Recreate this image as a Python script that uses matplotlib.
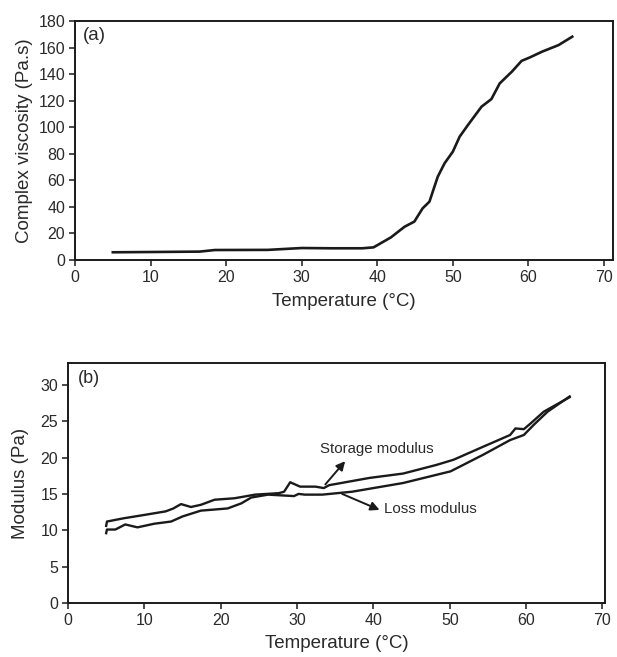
import matplotlib.pyplot as plt

plt.rcParams['font.family'] = ['Liberation Sans', 'DejaVu Sans']

# ---- (a) complex viscosity vs temperature ----
temp_a = [5, 10, 16.5, 18.5, 25.5, 30, 34, 38, 39.5, 41.8, 43.6, 44.9, 46.0, 46.9,
          48.0, 48.9, 50.0, 50.9, 52.0, 53.8, 55.1, 56.2, 57.8, 59.1, 60.2, 61.8,
          64.0, 65.8]
viscosity = [5.8, 6.0, 6.3, 7.5, 7.6, 9.0, 8.8, 8.8, 9.5, 17, 25, 28.9, 38.9, 43.9,
             62.7, 72.8, 81.6, 92.9, 101.7, 115.5, 121.2, 133, 141.8, 150, 152.6,
             156.9, 161.9, 168.2]

# ---- (b) storage / loss modulus vs temperature ----
temp_storage = [5.0, 5.1, 7.3, 9.95, 12.8, 13.8, 14.8, 16.1, 17.4, 19.2, 21.8, 24.5,
                27.6, 28.3, 29.1, 30.4, 32.4, 33.5, 34.2, 39.5, 43.9, 48.3, 50.5,
                54.4, 57.9, 58.6, 59.7, 60.6, 62.3, 65.7]
storage = [10.6, 11.2, 11.65, 12.1, 12.6, 13.0, 13.6, 13.2, 13.5, 14.2, 14.4, 14.9,
           15.1, 15.3, 16.6, 16.0, 16.0, 15.8, 16.2, 17.2, 17.8, 19.0, 19.7, 21.5,
           23.1, 24.0, 23.9, 24.7, 26.3, 28.3]

temp_loss = [5.0, 5.1, 6.2, 7.5, 9.1, 11.3, 13.5, 15.0, 17.4, 20.9, 22.7, 24.0, 26.2,
             29.6, 30.2, 31.0, 33.3, 37.2, 43.9, 50.1, 54.4, 57.9, 59.7, 61.0, 62.8,
             65.7]
loss = [9.6, 10.1, 10.1, 10.8, 10.4, 10.9, 11.2, 11.9, 12.7, 13.0, 13.7, 14.5, 14.9,
        14.7, 15.0, 14.9, 14.9, 15.3, 16.5, 18.1, 20.4, 22.4, 23.1, 24.5, 26.3, 28.4]

xticks = [0, 10, 20, 30, 40, 50, 60, 70]

ink = '#1a1a1a'
txt = '#2a2a2a'

fig = plt.figure(figsize=(6.17, 6.57), dpi=100)
ax1 = fig.add_axes([0.1216, 0.6043, 0.872, 0.3637])
ax2 = fig.add_axes([0.1102, 0.0822, 0.870, 0.3653])

ax1.plot(temp_a, viscosity, color=ink, lw=1.9)
ax1.set_xlim(0, 71.2)
ax1.set_ylim(0, 180)
ax1.set_xticks(xticks)
ax1.set_yticks(range(0, 181, 20))
ax1.set_xlabel('Temperature (°C)', fontsize=13.5, color=txt, labelpad=6)
ax1.set_ylabel('Complex viscosity (Pa.s)', fontsize=13.5, color=txt, labelpad=4)
ax1.text(0.015, 0.975, '(a)', transform=ax1.transAxes, ha='left', va='top',
         fontsize=13.5, color=txt)

ax2.plot(temp_storage, storage, color=ink, lw=1.7)
ax2.plot(temp_loss, loss, color=ink, lw=1.7)
ax2.set_xlim(0, 70.3)
ax2.set_ylim(0, 33)
ax2.set_xticks(xticks)
ax2.set_yticks(range(0, 31, 5))
ax2.set_xlabel('Temperature (°C)', fontsize=13.5, color=txt, labelpad=5)
ax2.set_ylabel('Modulus (Pa)', fontsize=13.5, color=txt, labelpad=8)
ax2.text(0.018, 0.97, '(b)', transform=ax2.transAxes, ha='left', va='top',
         fontsize=13, color=txt)

# arrows pointing from the curves to their labels
arrow = dict(arrowstyle='-|>', color=ink, lw=1.4, mutation_scale=13,
             shrinkA=0, shrinkB=0)
ax2.annotate('', xy=(36.3, 19.5), xytext=(33.7, 16.3), arrowprops=arrow)
ax2.text(33.0, 21.2, 'Storage modulus', fontsize=10.8, color=txt,
         ha='left', va='center')
ax2.annotate('', xy=(40.8, 12.8), xytext=(35.9, 15.0), arrowprops=arrow)
ax2.text(41.4, 12.9, 'Loss modulus', fontsize=10.8, color=txt,
         ha='left', va='center')

for ax in (ax1, ax2):
    for s in ax.spines.values():
        s.set_linewidth(1.4)
        s.set_color(ink)
    ax.tick_params(direction='out', length=4, width=1.1, color=ink,
                   labelsize=11.5, labelcolor=txt, pad=3)

fig.savefig('out.png', dpi=100)
